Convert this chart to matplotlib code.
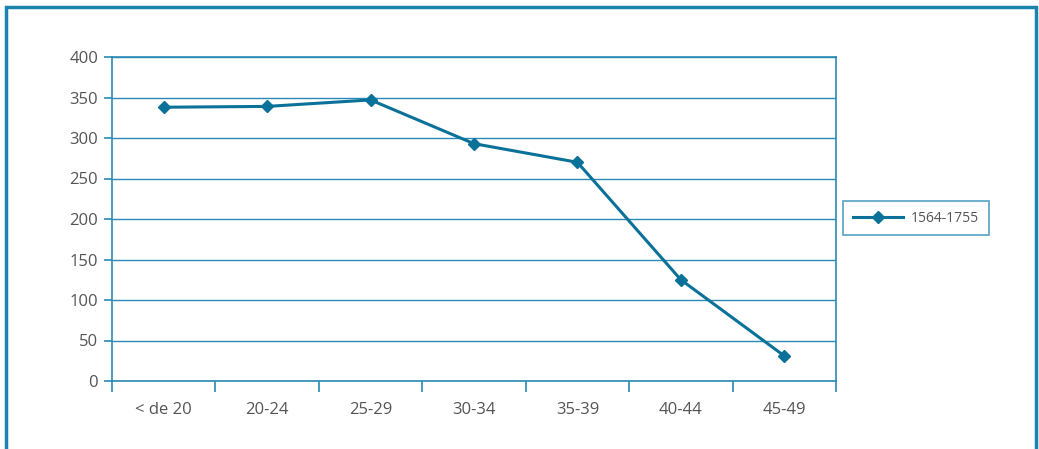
import numpy as np
import matplotlib.pyplot as plt
from matplotlib.patches import Rectangle

plt.rcParams['font.family'] = ['Open Sans', 'DejaVu Sans']

categorias = ['< de 20', '20-24', '25-29', '30-34', '35-39', '40-44', '45-49']
valores = [338, 339, 347, 293, 270, 125, 31]
serie = '1564-1755'

azul = '#0a7199'
rejilla = '#2a8ab5'
gris = '#555555'

fig = plt.figure(figsize=(10.39, 4.49), dpi=100)
ax = fig.add_axes([112/1039, 68/449, 724/1039, 324/449])

x = np.arange(len(categorias))
ax.plot(x, valores, color=azul, lw=2.2, marker='D', ms=6, label=serie)

ax.set_xlim(-0.5, len(categorias) - 0.5)
ax.set_ylim(0, 400)
ax.set_yticks(np.arange(0, 401, 50))
ax.set_xticks(x)
ax.set_xticklabels(categorias)
ax.set_xticks(np.arange(-0.5, len(categorias)), minor=True)
ax.tick_params(axis='x', which='major', length=0, pad=15, labelsize=12, labelcolor=gris)
ax.tick_params(axis='x', which='minor', length=8, width=1.2, color=rejilla, direction='out')
ax.tick_params(axis='y', length=6, width=1.2, color=rejilla, labelsize=12, labelcolor=gris, pad=4)
ax.grid(axis='y', color=rejilla, lw=1)
ax.set_axisbelow(True)
for s in ax.spines.values():
    s.set_color(rejilla)
    s.set_linewidth(1.2)

leg = ax.legend(loc='center left', bbox_to_anchor=(843/1039, (449-218)/449),
                bbox_transform=fig.transFigure, fontsize=10, frameon=True,
                fancybox=False, handlelength=3.6, handletextpad=0.6,
                borderpad=0.7, borderaxespad=0, labelcolor=gris)
leg.get_frame().set_edgecolor(rejilla)
leg.get_frame().set_linewidth(1.2)

# marco exterior
fig.patches.append(Rectangle((6/1039, -0.05), 1030/1039, (449-7)/449 + 0.05,
                             transform=fig.transFigure, fill=False,
                             edgecolor='#1a84ae', lw=2.5))

fig.savefig('out.png', dpi=100)
